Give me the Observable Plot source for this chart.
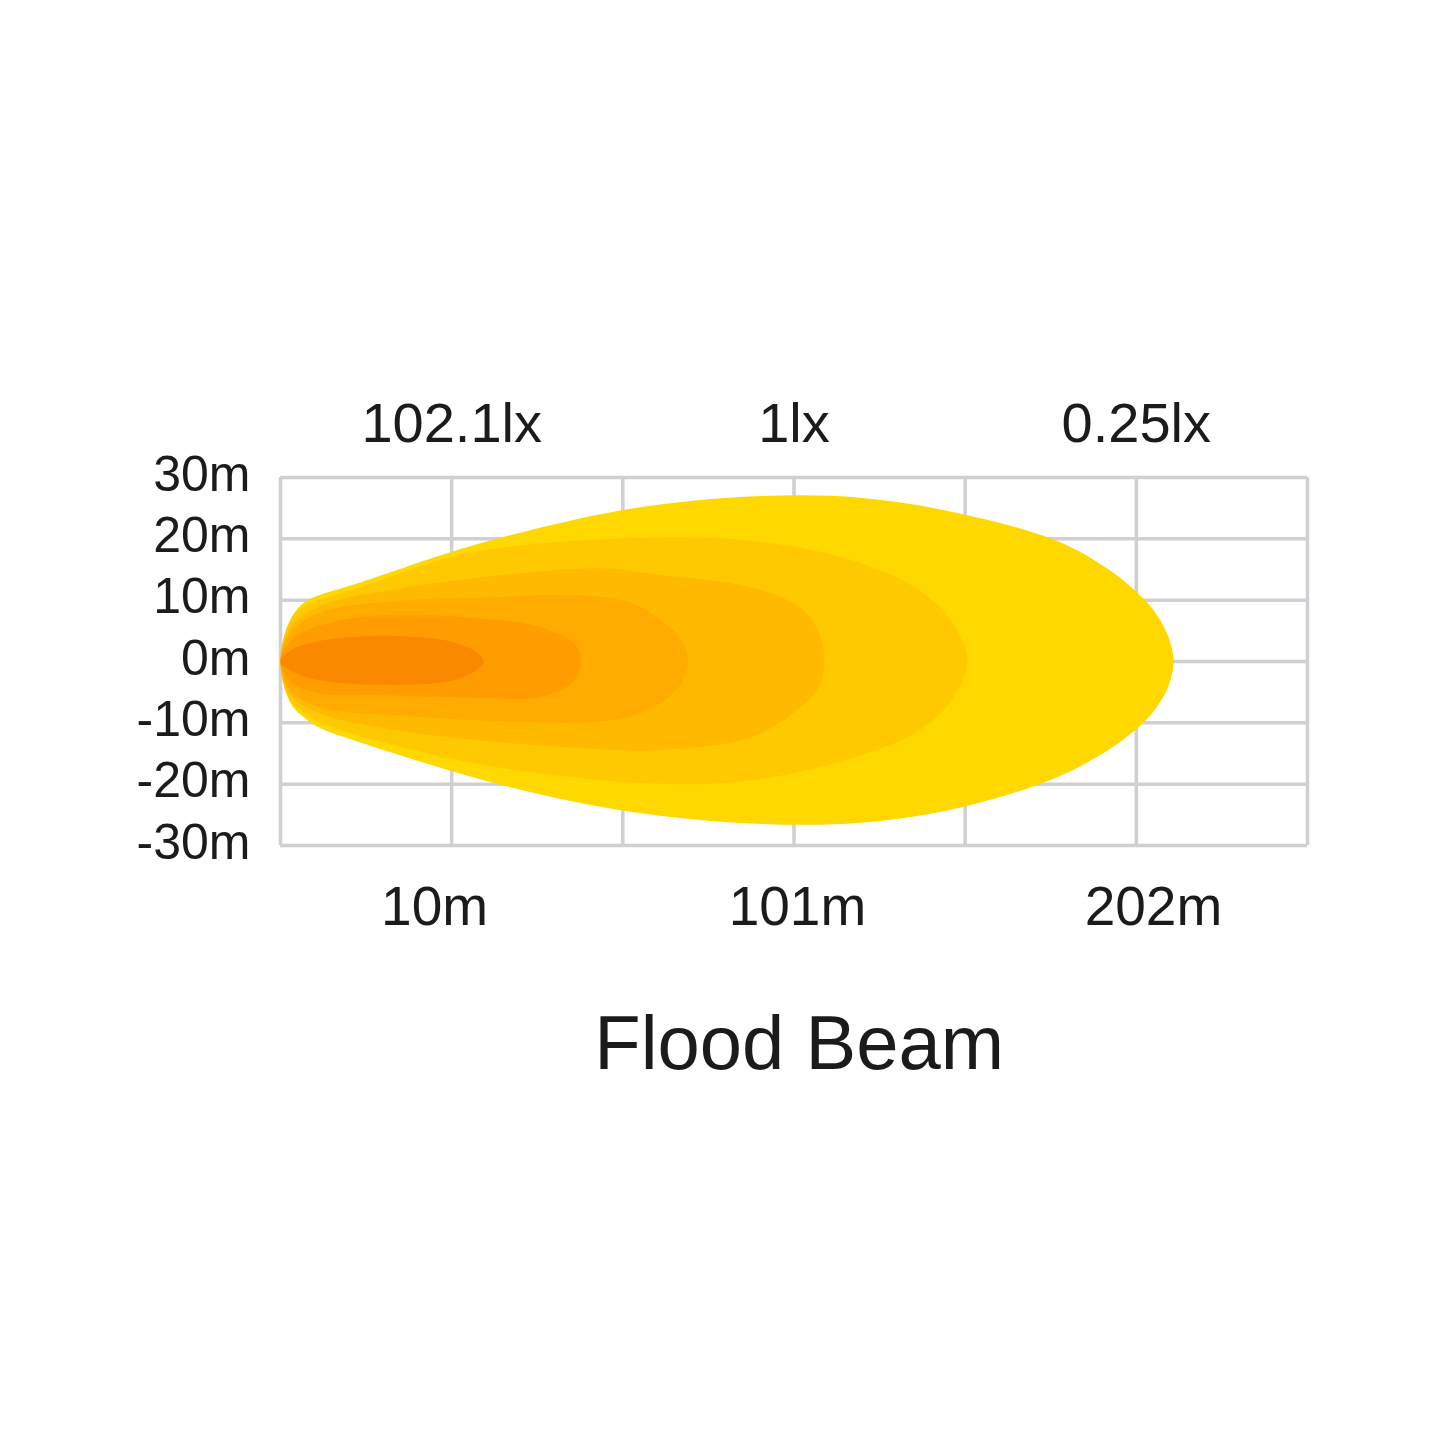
<!DOCTYPE html>
<html>
<head>
<meta charset="utf-8">
<script src="https://cdn.jsdelivr.net/npm/d3@7"></script>
<script src="https://cdn.jsdelivr.net/npm/@observablehq/plot@0.6"></script>
<style>
  html, body { margin: 0; padding: 0; background: #ffffff; }
  #chart { width: 1440px; height: 1440px; }
</style>
</head>
<body>
<div id="chart"></div>
<script>
// ---- Data ----
// Vertical scale (metres), horizontal grid columns 0..6
const yTicks = [-30, -20, -10, 0, 10, 20, 30];
const xGrid = [0, 1, 2, 3, 4, 5, 6];

// Illuminance labels above the grid
const luxLabels = ["102.1lx", "1lx", "0.25lx"];
const luxX = [1, 3, 5];

// Distance labels below the grid
const distLabels = ["10m", "101m", "202m"];
const distX = [0.9, 3.02, 5.1];

const titleText = "Flood Beam";

// Beam contour layers, outermost to innermost
const layerColors = ["#FFD800", "#FFC900", "#FFBA00", "#FFAB00", "#FE9C00", "#FB8900"];

const layer1X   = [0, 0.018, 0.070, 0.146, 0.234, 0.467, 0.993, 1.402, 2.045, 2.746, 3.388, 3.973, 4.534, 4.849, 5.036, 5.110, 5.188, 5.217];
const layer1Top = [0, 3.8, 7.5, 9.8, 10.9, 12.9, 17.8, 21.0, 24.9, 26.9, 26.7, 24.1, 19.7, 14.8, 10.4, 8.0, 4.0, 0];
const layer1Bot = [0, -3.8, -7.3, -9.3, -10.9, -13.2, -17.8, -20.9, -24.5, -26.4, -26.3, -23.8, -18.9, -14.2, -10.1, -7.8, -4.0, 0];

const layer2X   = [0, 0.058, 0.146, 0.234, 0.467, 0.993, 1.402, 2.162, 2.746, 3.330, 3.722, 3.920, 4.014];
const layer2Top = [0, 6.7, 9.1, 10.1, 12.1, 17.0, 18.9, 20.2, 19.7, 16.6, 11.8, 6.6, 0];
const layer2Bot = [0, -6.4, -8.5, -9.9, -12.2, -15.8, -17.8, -19.9, -19.4, -15.8, -11.4, -6.3, 0];

const layer3X   = [0, 0.058, 0.234, 0.701, 1.168, 1.870, 2.162, 2.746, 3.038, 3.145, 3.178];
const layer3Top = [0, 5.5, 9.1, 11.9, 13.7, 15.2, 14.3, 12.1, 8.8, 4.8, 0];
const layer3Bot = [0, -5.5, -8.5, -11.3, -12.9, -14.3, -14.5, -12.4, -7.5, -4.2, 0];

const layer4X   = [0, 0.058, 0.234, 0.701, 1.168, 1.753, 2.045, 2.250, 2.355, 2.382];
const layer4Top = [0, 4.7, 8.0, 9.9, 10.4, 10.8, 9.6, 6.2, 3.0, 0];
const layer4Bot = [0, -4.7, -7.5, -8.8, -9.6, -9.9, -9.0, -6.2, -3.0, 0];

const layer5X   = [0, 0.058, 0.234, 0.584, 1.168, 1.519, 1.720, 1.756];
const layer5Top = [0, 3.4, 5.9, 7.5, 7.0, 5.6, 2.8, 0];
const layer5Bot = [0, -3.4, -5.2, -5.5, -5.9, -5.8, -3.0, 0];

const layer6X   = [0, 0.058, 0.234, 0.584, 0.976, 1.110, 1.170, 1.188];
const layer6Top = [0, 1.8, 3.4, 4.2, 3.4, 2.1, 1.0, 0];
const layer6Bot = [0, -1.5, -3.1, -3.8, -3.3, -2.0, -0.8, 0];

// ---- Build closed outlines: top edge left→right, bottom edge right→left ----
const layerSets = [
  [layer1X, layer1Top, layer1Bot],
  [layer2X, layer2Top, layer2Bot],
  [layer3X, layer3Top, layer3Bot],
  [layer4X, layer4Top, layer4Bot],
  [layer5X, layer5Top, layer5Bot],
  [layer6X, layer6Top, layer6Bot]
];
const layerOutlines = layerSets.map(([xs, tops, bots], i) => {
  const pts = xs.map((x, j) => ({layer: i, x, y: tops[j]}));
  for (let j = xs.length - 2; j >= 1; j--) pts.push({layer: i, x: xs[j], y: bots[j]});
  return pts;
});
const luxRows = luxLabels.map((t, i) => ({text: t, x: luxX[i]}));
const distRows = distLabels.map((t, i) => ({text: t, x: distX[i]}));

const textColor = "#1b1b1b";
const gridColor = "#cfcfd4";

const chart = Plot.plot({
  width: 1440,
  height: 1440,
  marginLeft: 280,
  marginRight: 133,
  marginTop: 477,
  marginBottom: 595,
  style: {fontFamily: "'Liberation Sans', Arial, sans-serif", background: "#ffffff", color: textColor},
  x: {domain: [0, 6], axis: null, label: null},
  y: {domain: [-30, 30], axis: null, label: null},
  marks: [
    Plot.ruleX(xGrid, {stroke: gridColor, strokeWidth: 3.5}),
    Plot.ruleY(yTicks, {stroke: gridColor, strokeWidth: 3.5}),
    ...layerOutlines.map((pts, i) =>
      Plot.line(pts, {x: "x", y: "y", fill: layerColors[i], stroke: "none", curve: "catmull-rom-closed"})
    ),
    Plot.axisY({ticks: yTicks, tickFormat: d => d + "m", tickSize: 0, tickPadding: 30, fontSize: 50, fill: textColor, dy: -3, label: null}),
    Plot.text(luxRows, {x: "x", y: () => 30, text: "text", dy: -36, lineAnchor: "bottom", fontSize: 56, fill: textColor}),
    Plot.text(distRows, {x: "x", y: () => -30, text: "text", dy: 79, lineAnchor: "bottom", fontSize: 55, fill: textColor}),
    Plot.text([titleText], {x: () => 3.03, y: () => -30, text: d => d, dy: 223, lineAnchor: "bottom", fontSize: 76, fill: textColor})
  ]
});
document.getElementById("chart").appendChild(chart);
</script>
</body>
</html>
